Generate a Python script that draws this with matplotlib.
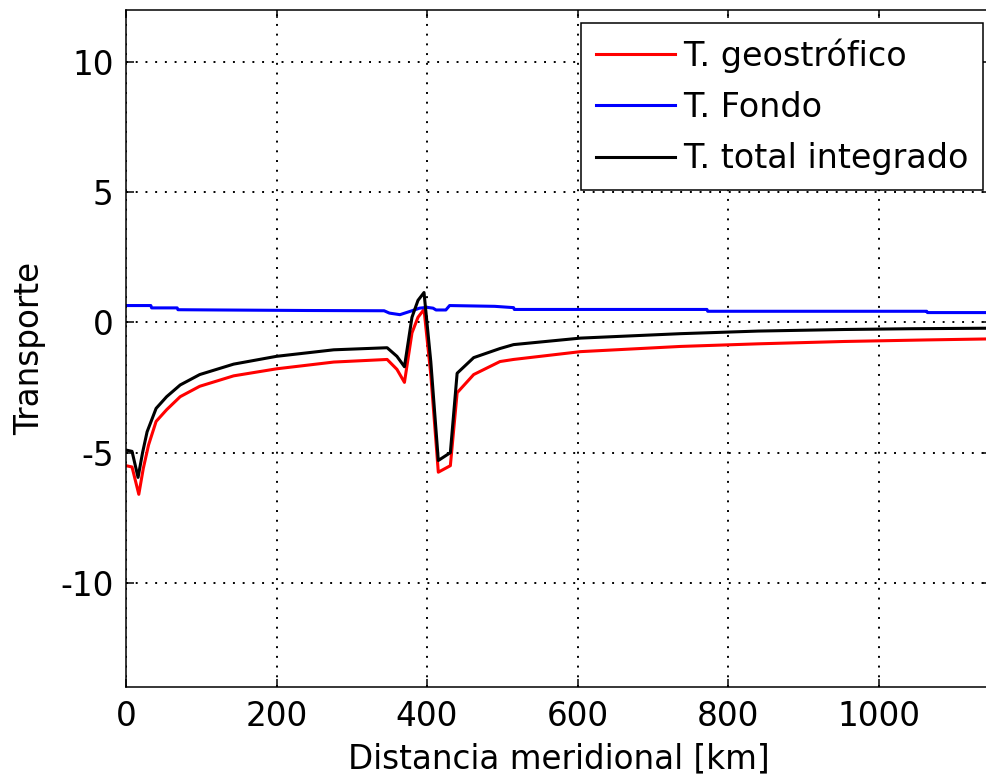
import matplotlib
matplotlib.use('Agg')
import matplotlib.pyplot as plt

plt.rcParams['font.family'] = ['DejaVu Sans']
plt.rcParams['axes.unicode_minus'] = False

# distancia meridional [km] y transportes
x_geo = [0, 8, 17, 23, 30, 40, 54, 72, 98, 143, 200, 276, 347, 360, 370,
         380, 388, 396, 405, 415, 431, 440, 462, 497, 515, 604, 737, 840,
         954, 1064, 1150]
t_geo = [-5.5, -5.55, -6.6, -5.6, -4.7, -3.8, -3.35, -2.85, -2.45, -2.05,
         -1.78, -1.52, -1.42, -1.8, -2.3, -0.4, 0.2, 0.5, -2.0, -5.75,
         -5.5, -2.7, -2.0, -1.5, -1.42, -1.12, -0.92, -0.82, -0.73, -0.67,
         -0.63]

x_fondo = [0, 33, 34, 68, 69, 123, 240, 343, 350, 364, 380, 390, 400, 408,
           412, 425, 430, 490, 515, 516, 772, 773, 1064, 1065, 1150]
t_fondo = [0.65, 0.65, 0.56, 0.56, 0.49, 0.48, 0.46, 0.45, 0.36, 0.3, 0.45,
           0.55, 0.58, 0.55, 0.48, 0.48, 0.65, 0.62, 0.57, 0.5, 0.5, 0.43,
           0.43, 0.38, 0.38]

x_total = [0, 8, 16, 22, 28, 40, 54, 72, 98, 143, 200, 276, 347, 360, 370,
           380, 388, 396, 405, 415, 431, 440, 462, 497, 515, 604, 737, 840,
           954, 1042, 1150]
t_total = [-4.9, -4.95, -5.95, -5.0, -4.2, -3.3, -2.85, -2.4, -2.0, -1.6,
           -1.3, -1.05, -0.97, -1.3, -1.7, 0.2, 0.85, 1.15, -1.5, -5.3,
           -5.0, -1.95, -1.35, -1.0, -0.85, -0.6, -0.43, -0.33, -0.27, -0.24,
           -0.22]

fig = plt.figure(figsize=(9.86, 7.83), dpi=100)
ax = fig.add_axes([0.1278, 0.1226, 0.8777, 0.8646])

ax.plot(x_geo, t_geo, color='#ff0000', lw=2.2, label='T. geostrófico')
ax.plot(x_fondo, t_fondo, color='#0000ff', lw=2.2, label='T. Fondo')
ax.plot(x_total, t_total, color='black', lw=2.2, label='T. total integrado')

ax.set_xlim(0, 1150)
ax.set_ylim(-14, 12)
ax.set_xticks([0, 200, 400, 600, 800, 1000])
ax.set_yticks([-10, -5, 0, 5, 10])
ax.grid(True, color='black', linestyle=(0, (1, 4)), lw=1.4)
ax.tick_params(direction='in', length=6, width=1.1, labelsize=23.5,
               top=True, right=True, pad=9)
for s in ax.spines.values():
    s.set_linewidth(1.1)

ax.set_xlabel('Distancia meridional [km]', fontsize=23.5, labelpad=7)
ax.set_ylabel('Transporte', fontsize=23.5, labelpad=10)

leg = ax.legend(loc='upper right', bbox_to_anchor=(0.9908, 0.9808),
                borderaxespad=0, fontsize=24, fancybox=False,
                edgecolor='black', framealpha=1, handlelength=2.35,
                handletextpad=0.25, labelspacing=0.55, borderpad=0.45)
leg.get_frame().set_linewidth(1.1)

fig.savefig('out.png', dpi=100)
